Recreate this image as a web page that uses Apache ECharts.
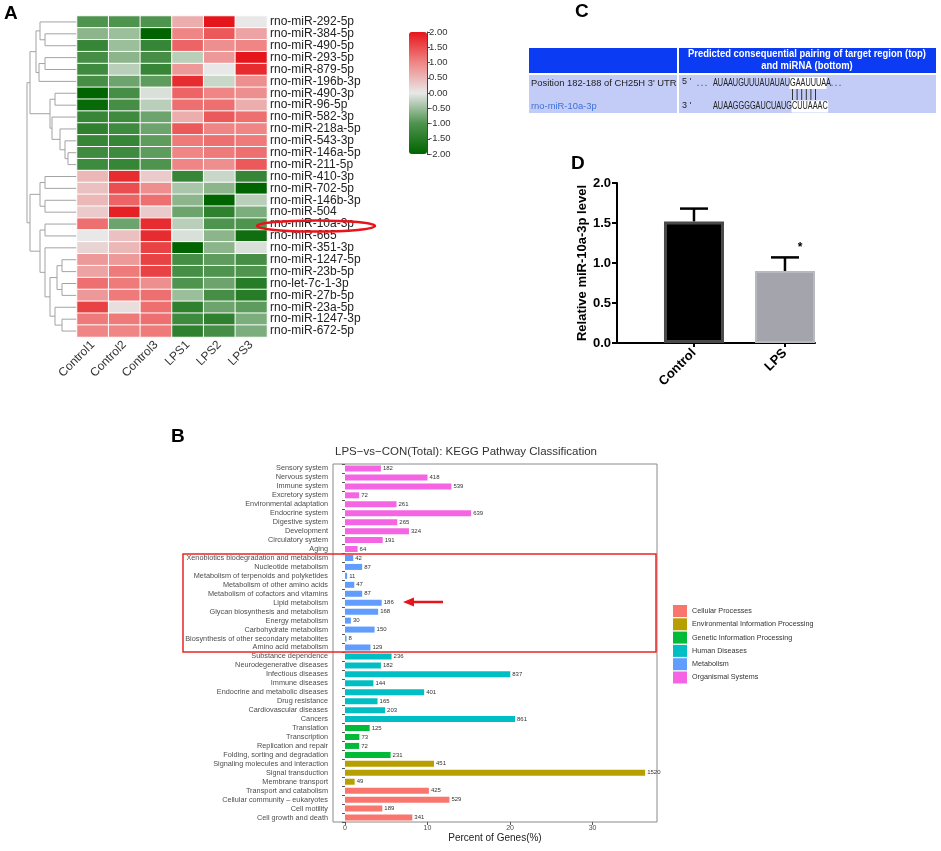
<!DOCTYPE html>
<html>
<head>
<meta charset="utf-8">
<script src="https://cdn.jsdelivr.net/npm/echarts@6/dist/echarts.min.js"></script>
<style>
html,body{margin:0;padding:0;background:#fff}
#main{width:941px;height:851px}
</style>
</head>
<body>
<div id="main"></div>
<script>
var FONT = '"Liberation Sans", Arial, Helvetica, sans-serif';

// ---- A: heatmap ----
var samples = ['Control1','Control2','Control3','LPS1','LPS2','LPS3'];
var mirnas = ['rno-miR-292-5p','rno-miR-384-5p','rno-miR-490-5p','rno-miR-293-5p','rno-miR-879-5p',
  'rno-miR-196b-3p','rno-miR-490-3p','rno-miR-96-5p','rno-miR-582-3p','rno-miR-218a-5p','rno-miR-543-3p',
  'rno-miR-146a-5p','rno-miR-211-5p','rno-miR-410-3p','rno-miR-702-5p','rno-miR-146b-3p','rno-miR-504',
  'rno-miR-10a-3p','rno-miR-665','rno-miR-351-3p','rno-miR-1247-5p','rno-miR-23b-5p','rno-let-7c-1-3p',
  'rno-miR-27b-5p','rno-miR-23a-5p','rno-miR-1247-3p','rno-miR-672-5p'];
var expr = [
  [-1.0,-1.0,-1.0, 0.6, 2.0, 0.0],
  [-0.6,-0.5,-2.0, 1.0, 1.4, 0.7],
  [-1.3,-0.5,-1.3, 1.3, 0.9, 1.0],
  [-1.1,-0.6,-1.1,-0.3, 0.8, 2.0],
  [-1.2,-0.3,-1.3, 0.8, 0.0, 1.8],
  [-1.1,-0.8,-0.9, 1.8,-0.2, 0.9],
  [-2.0,-1.1,-0.1, 1.3, 1.0, 0.9],
  [-1.9,-1.1,-0.3, 1.2, 1.2, 0.6],
  [-1.3,-1.2,-0.8, 0.6, 1.4, 1.2],
  [-1.4,-1.2,-0.8, 1.4, 1.0, 1.0],
  [-1.3,-1.3,-0.9, 1.1, 1.2, 1.1],
  [-1.2,-1.2,-0.9, 1.0, 1.1, 1.2],
  [-1.2,-1.3,-1.0, 1.0, 0.9, 1.4],
  [ 0.5, 1.8, 0.3,-1.3,-0.2,-1.3],
  [ 0.4, 1.5, 0.9,-0.4,-0.6,-2.0],
  [ 0.5, 1.3, 1.2,-0.6,-2.0,-0.3],
  [ 0.3, 1.9, 0.3,-0.8,-1.4,-0.7],
  [ 1.2,-0.8, 1.8,-0.3,-1.0,-1.0],
  [ 0.0, 0.4, 1.8,-0.1,-0.6,-1.8],
  [ 0.2, 0.5, 1.6,-2.0,-0.6,-0.1],
  [ 0.8, 0.8, 1.6,-1.1,-0.9,-1.1],
  [ 0.7, 1.1, 1.6,-1.1,-1.0,-1.0],
  [ 1.2, 1.1, 0.9,-1.0,-0.8,-1.5],
  [ 0.8, 1.1, 1.2,-0.5,-1.1,-1.5],
  [ 1.6, 0.1, 1.2,-1.4,-0.8,-0.9],
  [ 1.1, 1.1, 1.2,-1.2,-1.4,-0.7],
  [ 1.0, 1.0, 1.1,-1.4,-1.1,-0.7]
];
// row clustering: [merge height, left, right], leaves are row numbers
var rowTree = [50,
  [47, [41, [37, 0, [32, 1, 2]], [38, [32, 3, 4], 5]],
       [27, [22, 6, 7], [25, 8, [17, 9, [12, 10, [9, 11, 12]]]]]],
  [47, [37, [32, 13, 14], [32, 15, 16]],
       [37, [32, 17, 18], [32, 19, [27, [20, [15, 20, 21], [15, 22, 23]], [22, 24, [15, 25, 26]]]]]]
];

// ---- B: KEGG classification ----
var keggClasses = ['Cellular Processes','Environmental Information Processing','Genetic Information Processing',
  'Human Diseases','Metabolism','Organismal Systems'];
var keggNames = ['Sensory system','Nervous system','Immune system','Excretory system','Environmental adaptation',
  'Endocrine system','Digestive system','Development','Circulatory system','Aging',
  'Xenobiotics biodegradation and metabolism','Nucleotide metabolism','Metabolism of terpenoids and polyketides',
  'Metabolism of other amino acids','Metabolism of cofactors and vitamins','Lipid metabolism',
  'Glycan biosynthesis and metabolism','Energy metabolism','Carbohydrate metabolism',
  'Biosynthesis of other secondary metabolites','Amino acid metabolism',
  'Substance dependence','Neurodegenerative diseases','Infectious diseases','Immune diseases',
  'Endocrine and metabolic diseases','Drug resistance','Cardiovascular diseases','Cancers',
  'Translation','Transcription','Replication and repair','Folding, sorting and degradation',
  'Signaling molecules and interaction','Signal transduction','Membrane transport',
  'Transport and catabolism','Cellular community \u2013 eukaryotes','Cell motility','Cell growth and death'];
var keggCounts = [182,418,539,72,261,639,265,324,191,64,
  42,87,11,47,87,186,168,30,150,8,129,
  236,182,837,144,401,165,203,861,
  125,73,72,231,
  451,1520,49,
  425,529,189,341];
var keggClassOf = [5,5,5,5,5,5,5,5,5,5, 4,4,4,4,4,4,4,4,4,4,4, 3,3,3,3,3,3,3,3, 2,2,2,2, 1,1,1, 0,0,0,0];
var totalGenes = 4180;

// ---- D: qPCR ----
var groups = ['Control','LPS'];
var levelMean = [1.52, 0.90];
var levelErr = [0.16, 0.17];
var signif = ['', '*'];

var classColors = ['#F8766D','#B79F00','#00BA38','#00BFC4','#619CFF','#F564E3'];

// dendrogram segments
var dendroSegs = [];
function walk(node){
  if (typeof node === 'number') return {h:0, y:node + 0.5};
  var l = walk(node[1]), r = walk(node[2]), h = node[0];
  dendroSegs.push({coords:[[l.h,l.y],[h,l.y],[h,r.y],[r.h,r.y]]});
  return {h:h, y:(l.y + r.y)/2};
}
walk(rowTree);

var heatData = [];
expr.forEach(function(row, i){
  row.forEach(function(v, j){ heatData.push([j, i, v]); });
});

var keggSeries = keggClasses.map(function(cls, k){
  return {
    name: cls, type: 'bar', xAxisIndex: 3, yAxisIndex: 3,
    barWidth: 6, barGap: '-100%',
    itemStyle: {color: classColors[k]},
    label: {show: true, position: 'right', distance: 2, fontSize: 6, color: '#333', fontFamily: FONT,
      formatter: function(p){ return keggCounts[p.dataIndex]; }},
    data: keggCounts.map(function(c, i){ return keggClassOf[i] === k ? c / totalGenes * 100 : '-'; }),
    silent: true, animation: false
  };
});

// text measuring for panel C
var ctx = document.createElement('canvas').getContext('2d');
function textW(t, font){ ctx.font = font; return ctx.measureText(t).width; }

var SEQ_FONT = '10px ' + FONT;
var seqScale = 77 / textW('AUAAUGUUUAUAUAU', SEQ_FONT);
var HEAD_FONT = 'bold 10px ' + FONT;
var headScale = Math.min(1, 238 / textW('Predicted consequential pairing of target region (top)', HEAD_FONT));

var topSeq = ['AUAAUGUUUAUAUAU', 'GAAUUUA', 'A. . .'];
var botSeq = ['AUAAGGGGAUCUAUG', 'CUUAAAC'];

var graphics = [];
function txt(t, x, y, o){
  o = o || {};
  graphics.push({type:'text', x:x, y:y, scaleX:o.scaleX || 1, z:10,
    style:{text:t, x:0, y:0, font:o.font || ('12px ' + FONT), fill:o.fill || '#222',
      textAlign:o.align || 'left', textVerticalAlign:o.va || 'middle'}});
}
// panel letters
txt('A', 4, 14, {font:'bold 19px ' + FONT, fill:'#000'});
txt('B', 171, 437, {font:'bold 19px ' + FONT, fill:'#000'});
txt('C', 575, 12, {font:'bold 19px ' + FONT, fill:'#000'});
txt('D', 571, 164, {font:'bold 19px ' + FONT, fill:'#000'});

// circled miRNA
graphics.push({type:'ellipse', z:10, shape:{cx:316, cy:226, rx:59, ry:5.5},
  style:{fill:'none', stroke:'#e8141c', lineWidth:2.5}});

// panel C table
graphics.push({type:'rect', shape:{x:529, y:48, width:148, height:25}, style:{fill:'#0b3cf4'}});
graphics.push({type:'rect', shape:{x:679, y:48, width:257, height:25}, style:{fill:'#0b3cf4'}});
graphics.push({type:'rect', shape:{x:529, y:75, width:148, height:38}, style:{fill:'#c2ccf7'}});
graphics.push({type:'rect', shape:{x:679, y:75, width:257, height:38}, style:{fill:'#c2ccf7'}});
txt('Predicted consequential pairing of target region (top)', 807, 54.5, {font:HEAD_FONT, fill:'#fff', align:'center', scaleX:headScale});
txt('and miRNA (bottom)', 807, 66, {font:HEAD_FONT, fill:'#fff', align:'center', scaleX:headScale});
txt('Position 182-188 of CH25H 3\' UTR', 531, 83, {font:'9.4px ' + FONT, fill:'#222'});
txt('rno-miR-10a-3p', 531, 106, {font:'9.4px ' + FONT, fill:'#3d72d9'});
txt('5 \'', 682, 82, {font:'9px ' + FONT, fill:'#222'});
txt('3 \'', 682, 106, {font:'9px ' + FONT, fill:'#222'});
txt('. . .', 697, 83, {font:SEQ_FONT, fill:'#222', scaleX:seqScale});
(function(){
  var x = 713;
  topSeq.forEach(function(s, i){
    var w = textW(s, SEQ_FONT) * seqScale;
    if (i === 1) {
      graphics.push({type:'rect', shape:{x:x - 0.5, y:77, width:w + 1, height:12}, style:{fill:'#fff'}});
      for (var k = 0; k < 6; k++) {
        var px = x + 2.5 + k * 4.6;
        graphics.push({type:'line', shape:{x1:px, y1:89, x2:px, y2:100}, style:{stroke:'#333', lineWidth:1}});
      }
    }
    txt(s, x, 83, {font:SEQ_FONT, fill:'#222', scaleX:seqScale});
    x += w;
  });
  x = 713;
  botSeq.forEach(function(s, i){
    var w = textW(s, SEQ_FONT) * seqScale;
    if (i === 1) graphics.push({type:'rect', shape:{x:x - 0.5, y:100.5, width:w + 1, height:12}, style:{fill:'#fff'}});
    txt(s, x, 106, {font:SEQ_FONT, fill:'#222', scaleX:seqScale});
    x += w;
  });
})();

// panel B title, highlight box and arrow
txt('LPS\u2212vs\u2212CON(Total): KEGG Pathway Classification', 466, 452, {font:'11.5px ' + FONT, fill:'#333', align:'center'});
graphics.push({type:'rect', z:10, shape:{x:183, y:554, width:473, height:98},
  style:{fill:'none', stroke:'#ee2424', lineWidth:1.5}});
graphics.push({type:'line', z:10, shape:{x1:443, y1:602, x2:410, y2:602}, style:{stroke:'#e8141c', lineWidth:2.5}});
graphics.push({type:'polygon', z:10, shape:{points:[[403,602],[414,597.5],[414,606.5]]}, style:{fill:'#e8141c'}});

var chart = echarts.init(document.getElementById('main'));
var option = {
  animation: false,
  textStyle: {fontFamily: FONT},
  grid: [
    {left: 25, top: 16, width: 52, height: 321},
    {left: 77, top: 16, width: 190, height: 321},
    {left: 409, top: 32, width: 18, height: 122},
    {left: 333, top: 464, width: 324, height: 358, show: true, borderColor: '#8a8a8a', borderWidth: 1},
    {left: 617, top: 183, width: 198, height: 160}
  ],
  xAxis: [
    {gridIndex: 0, type: 'value', min: 0, max: 52, inverse: true, show: false},
    {gridIndex: 1, type: 'category', data: samples, axisLine: {show: false}, axisTick: {show: false},
      axisLabel: {rotate: 45, fontSize: 12, color: '#333', margin: 6, interval: 0}},
    {gridIndex: 2, type: 'category', data: [''], show: false},
    {gridIndex: 3, type: 'value', min: -1.45, max: 37.8, splitLine: {show: false},
      axisLine: {show: false},
      axisTick: {show: true, length: 3, customValues: [0,10,20,30], lineStyle: {color: '#555'}},
      axisLabel: {fontSize: 7, color: '#4d4d4d', margin: 3, customValues: [0,10,20,30]},
      name: 'Percent of Genes(%)', nameLocation: 'middle', nameGap: 11,
      nameTextStyle: {fontSize: 10, color: '#222'}},
    {gridIndex: 4, type: 'value', min: -0.846, max: 1.33, splitLine: {show: false},
      axisLine: {show: true, onZero: false, lineStyle: {color: '#000', width: 2}},
      axisTick: {show: true, length: 4, customValues: [0,1], lineStyle: {color: '#000', width: 2}},
      axisLabel: {rotate: 45, fontSize: 13, fontWeight: 'bold', color: '#000', margin: 8, customValues: [0,1],
        formatter: function(v){ return groups[Math.round(v)]; }}}
  ],
  yAxis: [
    {gridIndex: 0, type: 'value', min: 0, max: 27, inverse: true, show: false},
    {gridIndex: 1, type: 'category', data: mirnas, inverse: true, position: 'right',
      axisLine: {show: false}, axisTick: {show: false},
      axisLabel: {fontSize: 12, color: '#222', margin: 3, interval: 0}},
    {gridIndex: 2, type: 'value', min: -2, max: 2, interval: 0.5, position: 'right',
      splitLine: {show: false},
      axisLine: {show: true, lineStyle: {color: '#444'}},
      axisTick: {show: true, length: 3, lineStyle: {color: '#444'}},
      axisLabel: {fontSize: 9.5, color: '#333', margin: 2, formatter: function(v){ return v.toFixed(2); }}},
    {gridIndex: 3, type: 'category', data: keggNames, inverse: true,
      axisLine: {show: false},
      axisTick: {show: true, length: 3, lineStyle: {color: '#555'}},
      axisLabel: {fontSize: 7.3, color: '#4d4d4d', margin: 5, interval: 0}},
    {gridIndex: 4, type: 'value', min: 0, max: 2, interval: 0.5, splitLine: {show: false},
      axisLine: {show: true, onZero: false, lineStyle: {color: '#000', width: 2}},
      axisTick: {show: true, length: 5, lineStyle: {color: '#000', width: 2}},
      axisLabel: {fontSize: 13, fontWeight: 'bold', color: '#000', margin: 6,
        formatter: function(v){ return v.toFixed(1); }},
      name: 'Relative miR-10a-3p level', nameLocation: 'middle', nameGap: 26,
      nameTextStyle: {fontSize: 13, fontWeight: 'bold', color: '#000'}}
  ],
  visualMap: {
    type: 'continuous', min: -2, max: 2, seriesIndex: 1, calculable: false,
    left: 409, top: 32, itemWidth: 18, itemHeight: 122, padding: 0,
    inRange: {color: ['#006400', '#4e934e', '#e8e8e8', '#ef8585', '#e5161b']}
  },
  legend: {
    data: keggClasses, orient: 'vertical', left: 673, top: 605,
    itemWidth: 14, itemHeight: 12, itemGap: 1.3, icon: 'rect', padding: 0,
    textStyle: {fontSize: 7.2, color: '#333'}, selectedMode: false
  },
  graphic: graphics,
  series: [
    {type: 'lines', coordinateSystem: 'cartesian2d', xAxisIndex: 0, yAxisIndex: 0, polyline: true,
      lineStyle: {color: '#a3a3a3', width: 1, opacity: 1}, data: dendroSegs, silent: true},
    {type: 'heatmap', xAxisIndex: 1, yAxisIndex: 1, data: heatData,
      itemStyle: {borderColor: '#fff', borderWidth: 1}, silent: true}
  ].concat(keggSeries).concat([
    {type: 'bar', xAxisIndex: 4, yAxisIndex: 4, barWidth: 60, silent: true,
      data: [
        {value: [0, levelMean[0]], itemStyle: {color: '#000', borderColor: '#4a4a4a', borderWidth: 3}},
        {value: [1, levelMean[1]], itemStyle: {color: '#a4a4ac', borderColor: '#b8b8c0', borderWidth: 2}}
      ]},
    {type: 'custom', xAxisIndex: 4, yAxisIndex: 4, z: 5, silent: true,
      data: levelMean.map(function(m, i){ return [i, m, levelErr[i]]; }),
      renderItem: function(params, api){
        var x = api.value(0), m = api.value(1), e = api.value(2);
        var p0 = api.coord([x, m]), p1 = api.coord([x, m + e]);
        var kids = [
          {type: 'line', shape: {x1: p0[0], y1: p0[1], x2: p1[0], y2: p1[1]}, style: {stroke: '#000', lineWidth: 2.5}},
          {type: 'line', shape: {x1: p1[0] - 14, y1: p1[1], x2: p1[0] + 14, y2: p1[1]}, style: {stroke: '#000', lineWidth: 2.5}}
        ];
        var s = signif[params.dataIndex];
        if (s) kids.push({type: 'text', style: {text: s, x: p1[0] + 15, y: p1[1] - 10,
          font: 'bold 12px ' + FONT, fill: '#000', textAlign: 'center', textVerticalAlign: 'middle'}});
        return {type: 'group', children: kids};
      }}
  ])
};
chart.setOption(option);
</script>
</body>
</html>
